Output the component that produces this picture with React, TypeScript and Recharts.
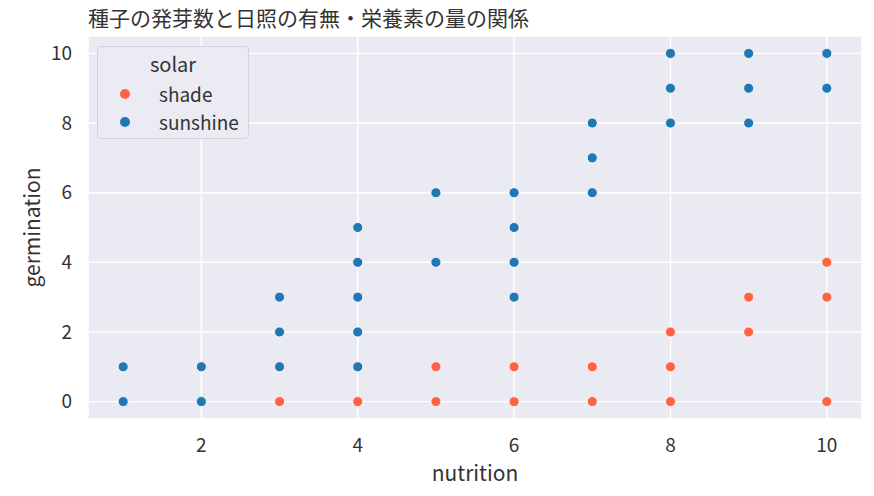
import React from 'react';
import { ScatterChart, Scatter, XAxis, YAxis, CartesianGrid } from 'recharts';

const FONT = '"Noto Sans CJK JP", "Noto Sans", sans-serif';

const title = '種子の発芽数と日照の有無・栄養素の量の関係';

const shadeNutrition = [3, 4, 5, 5, 6, 6, 7, 7, 8, 8, 8, 9, 9, 10, 10, 10];
const shadeGermination = [0, 0, 0, 1, 0, 1, 0, 1, 0, 1, 2, 2, 3, 0, 3, 4];

const sunshineNutrition = [1, 1, 2, 2, 3, 3, 3, 4, 4, 4, 4, 4, 5, 5, 6, 6, 6, 6, 7, 7, 7, 8, 8, 8, 9, 9, 9, 10, 10];
const sunshineGermination = [0, 1, 0, 1, 1, 2, 3, 1, 2, 3, 4, 5, 4, 6, 3, 4, 5, 6, 6, 7, 8, 8, 9, 10, 8, 9, 10, 9, 10];

const xTicks = [2, 4, 6, 8, 10];
const yTicks = [0, 2, 4, 6, 8, 10];

const SHADE = '#FD6345';
const SUNSHINE = '#1F77B4';

const toPoints = (xs: number[], ys: number[]) => xs.map((x, i) => ({ nutrition: x, germination: ys[i] }));

const shadeData = toPoints(shadeNutrition, shadeGermination);
const sunshineData = toPoints(sunshineNutrition, sunshineGermination);

const series = [
  { name: 'shade', color: SHADE, data: shadeData },
  { name: 'sunshine', color: SUNSHINE, data: sunshineData },
];

const Dot = (props: any) => {
  const { cx, cy, fill } = props;
  if (cx == null || cy == null) return null;
  return <circle cx={cx} cy={cy} r={5} fill={fill} stroke="#fff" strokeWidth={0.8} />;
};

// seaborn-like legend box sitting over the upper left of the plot
const LegendBox = () => (
  <div
    style={{
      position: 'absolute',
      left: 97,
      top: 46,
      width: 152,
      height: 93,
      boxSizing: 'border-box',
      background: 'rgba(234,234,242,0.96)',
      border: '1px solid #D3D3DA',
      borderRadius: 4,
      fontFamily: FONT,
      color: '#333',
      fontSize: 19,
    }}
  >
    <div style={{ position: 'absolute', left: 0, width: '100%', top: 4, lineHeight: '26px', textAlign: 'center', fontSize: 20 }}>
      solar
    </div>
    {series.map((s, i) => (
      <div key={s.name} style={{ position: 'absolute', left: 0, top: 34 + i * 28, height: 26, width: '100%' }}>
        <span
          style={{
            position: 'absolute',
            left: 22,
            top: 8,
            width: 10,
            height: 10,
            borderRadius: 5,
            background: s.color,
          }}
        />
        <span style={{ position: 'absolute', left: 61, top: 0, lineHeight: '26px' }}>{s.name}</span>
      </div>
    ))}
  </div>
);

export default function App() {
  return (
    <div style={{ position: 'absolute', left: 0, top: 0, width: 874, height: 496, background: '#fff' }}>
      <div
        style={{
          position: 'absolute',
          left: 88,
          top: 4,
          fontFamily: FONT,
          fontSize: 21,
          color: '#333',
          lineHeight: '26px',
          whiteSpace: 'nowrap',
        }}
      >
        {title}
      </div>
      <ScatterChart width={874} height={496} margin={{ top: 36, right: 12, bottom: 0, left: 0 }}>
        <CartesianGrid stroke="#fff" strokeWidth={1.4} fill="#EAEAF2" />
        <XAxis
          type="number"
          dataKey="nutrition"
          domain={[0.55, 10.45]}
          ticks={xTicks}
          allowDataOverflow
          axisLine={false}
          tickLine={false}
          tickSize={0}
          tickMargin={20}
          height={77}
          tick={{ fill: '#333', fontSize: 19, fontFamily: FONT }}
          label={{ value: 'nutrition', position: 'insideBottom', offset: 15, fill: '#333', fontSize: 21, fontFamily: FONT }}
        />
        <YAxis
          type="number"
          dataKey="germination"
          domain={[-0.5, 10.5]}
          ticks={yTicks}
          allowDataOverflow
          axisLine={false}
          tickLine={false}
          tickSize={0}
          tickMargin={16}
          width={88}
          tick={{ fill: '#333', fontSize: 19, fontFamily: FONT }}
          label={{
            value: 'germination',
            angle: -90,
            position: 'insideLeft',
            offset: 33,
            fill: '#333',
            fontSize: 21,
            fontFamily: FONT,
            style: { textAnchor: 'middle' },
          }}
        />
        {series.map((s) => (
          <Scatter key={s.name} name={s.name} data={s.data} fill={s.color} shape={<Dot />} isAnimationActive={false} />
        ))}
      </ScatterChart>
      <LegendBox />
    </div>
  );
}
